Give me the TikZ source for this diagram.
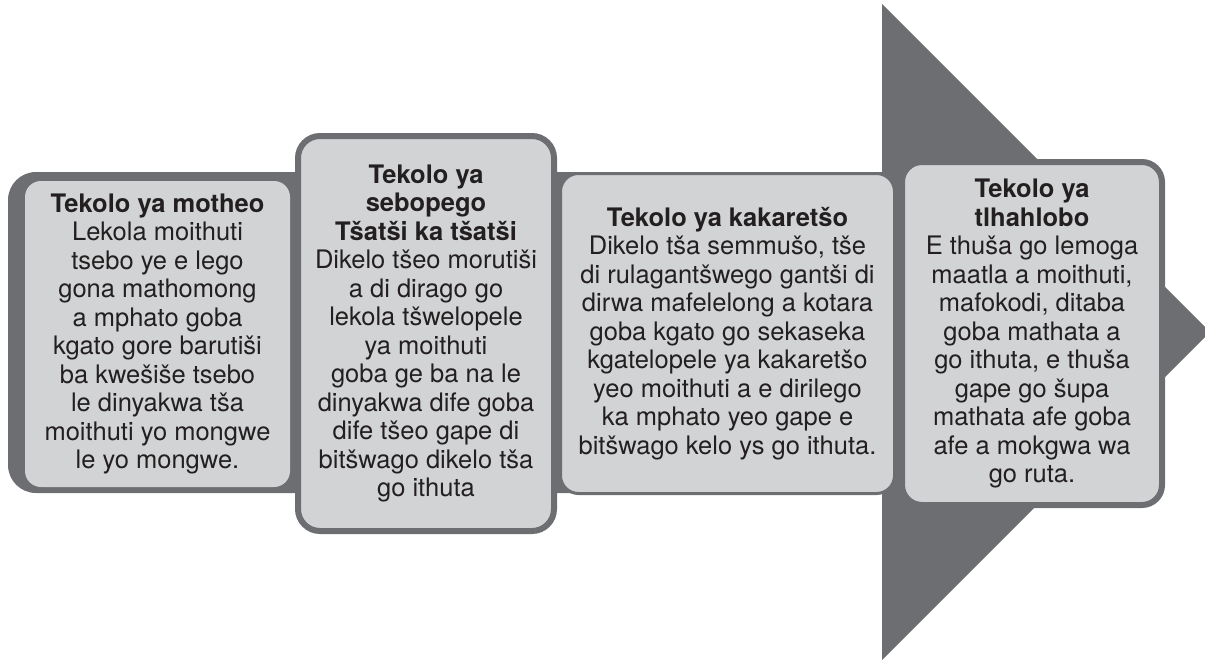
\documentclass[tikz,border=0pt]{standalone}
\usepackage{fontspec}
\setmainfont{TeX Gyre Heros}
\definecolor{darkg}{HTML}{6D6E71}
\definecolor{lightg}{HTML}{D1D3D4}
\definecolor{ink}{HTML}{231F20}
\begin{document}
\begin{tikzpicture}[x=1pt,y=-1pt,
  card/.style={fill=lightg, text=ink, align=center, inner sep=0pt,
    font=\fontsize{25.5}{28.5}\selectfont},
  shape/.style={fill=darkg}]
\useasboundingbox (0,0) rectangle (1205,665);
% dark band
\fill[darkg, rounded corners=28pt] (950,172) -- (8,172) -- (8,493) -- (950,493) -- cycle;
% big arrow head
\fill[darkg] (882,4) -- (1210,332) -- (882,660) -- cycle;
% box 1
\node[card, rounded corners=16pt, minimum width=265pt, minimum height=306pt] (b1) at (157.5,334)
  {\textbf{Tekolo ya motheo}\\ Lekola moithuti\\ tsebo ye e lego\\ gona mathomong\\ a mphato goba\\ kgato gore barutiši\\ ba kwešiše tsebo\\ le dinyakwa tša\\ moithuti yo mongwe\\ le yo mongwe.};
% box 2
\node[card, draw=darkg, line width=6pt, rounded corners=22pt, minimum width=256pt, minimum height=395pt] (b2) at (426,333.5)
  {\textbf{Tekolo ya}\\ \textbf{sebopego}\\ \textbf{Tšatši ka tšatši}\\ Dikelo tšeo morutiši\\ a di dirago go\\ lekola tšwelopele\\ ya moithuti\\ goba ge ba na le\\ dinyakwa dife goba\\ dife tšeo gape di\\ bitšwago dikelo tša\\ go ithuta};
% box 3
\node[card, draw=darkg, line width=3pt, rounded corners=18pt, minimum width=334pt, minimum height=320pt] (b3) at (727.5,333.5)
  {\textbf{Tekolo ya kakaretšo}\\ Dikelo tša semmušo, tše\\ di rulagantšwego gantši di\\ dirwa mafelelong a kotara\\ goba kgato go sekaseka\\ kgatelopele ya kakaretšo\\ yeo moithuti a e dirilego\\ ka mphato yeo gape e\\ bitšwago kelo ys go ithuta.};
% box 4
\node[card, draw=darkg, line width=6pt, rounded corners=20pt, minimum width=260pt, minimum height=343pt] (b4) at (1032,333.5)
  {\textbf{Tekolo ya}\\ \textbf{tlhahlobo}\\ E thuša go lemoga\\ maatla a moithuti,\\ mafokodi, ditaba\\ goba mathata a\\ go ithuta, e thuša\\ gape go šupa\\ mathata afe goba\\ afe a mokgwa wa\\ go ruta.};
\end{tikzpicture}
\end{document}
